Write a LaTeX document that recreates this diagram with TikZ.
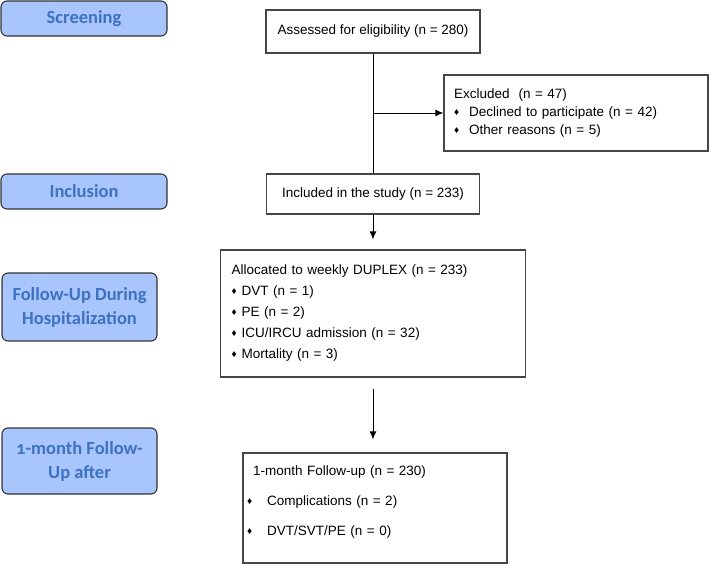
\documentclass[tikz,border=0pt]{standalone}
\usepackage{fontspec}
\setmainfont{Liberation Sans}
\newfontfamily\stagefont[Numbers=OldStyle]{Carlito}
\usetikzlibrary{positioning,arrows.meta}

\definecolor{stagefill}{RGB}{168,197,254}
\definecolor{stagetext}{RGB}{62,114,190}
\definecolor{boxline}{RGB}{70,70,70}

% small diamond bullet: #1 space before, #2 space after
\newcommand{\bul}[2]{\hspace*{#1}\raisebox{1.2pt}{\fontsize{10}{10}\selectfont ♦}\hspace{#2}}

\begin{document}
\begin{tikzpicture}[x=1pt,y=-1pt,on grid,
    stage/.style={draw=black!80, line width=1.1pt, rounded corners=6pt,
      fill=stagefill, text=stagetext, align=center, inner sep=0pt,
      font=\stagefont\bfseries\fontsize{18.5}{24}\selectfont},
    flow/.style={draw=boxline, line width=1.2pt, inner sep=0pt,
      font=\fontsize{13.5}{21}\selectfont},
    arr/.style={-{Latex[length=8pt,width=7pt]}, line width=1pt}]
  \useasboundingbox (0,0) rectangle (709,565);

  % stages
  \node[stage, minimum width=166pt, minimum height=35pt] (screen) at (84,18.5) {Screening};
  \node[stage, minimum width=166pt, minimum height=35pt] (inclstage) [below=173pt of screen] {Inclusion};
  \node[stage, minimum width=155pt, minimum height=68pt] (hosp) [below=115.5pt of inclstage, xshift=-4.5pt] {Follow-Up During\\Hospitalization};
  \node[stage, minimum width=155pt, minimum height=66pt] (month) [below=154pt of hosp] {1-month Follow-\\Up after};

  % flow boxes
  \node[flow, minimum width=214pt, minimum height=43pt] (assess) at (373,31.5) {Assessed for eligibility (n = 280)};
  \node[flow, minimum width=264pt, minimum height=76pt, text width=244pt, align=left,
        font=\fontsize{13.5}{18}\selectfont] (excl) [below right=81.5pt and 203pt of assess]
    {Excluded\ \ (n = 47)\\
     \bul{0pt}{10pt}Declined to participate (n = 42)\\
     \bul{0pt}{10pt}Other reasons (n = 5)};
  \node[flow, minimum width=213pt, minimum height=40pt] (incl) [below=162.5pt of assess] {Included in the study (n = 233)};
  \node[flow, minimum width=305pt, minimum height=127pt, text width=283pt, align=left] (alloc) [below=119.5pt of incl]
    {Allocated to weekly DUPLEX (n = 233)\\
     \bul{0pt}{5pt}DVT (n = 1)\\
     \bul{0pt}{5pt}PE (n = 2)\\
     \bul{0pt}{5pt}ICU/IRCU admission (n = 32)\\
     \bul{0pt}{5pt}Mortality (n = 3)};
  \node[flow, minimum width=264pt, minimum height=110pt, text width=244pt, align=left,
        font=\fontsize{13.5}{30}\selectfont] (fu) [below=194.5pt of alloc, xshift=2pt]
    {1-month Follow-up (n = 230)\\
     \bul{-6pt}{15pt}Complications (n = 2)\\
     \bul{-6pt}{15pt}DVT/SVT/PE (n = 0)\rule[-15pt]{0pt}{15pt}};

  % connectors
  \coordinate (split) at (assess |- excl);
  \draw[line width=1pt] (assess) -- (incl);
  \draw[arr] (split) -- (excl);
  \draw[arr, shorten >=10pt] (incl) -- (alloc);
  \draw[arr, shorten <=11pt, shorten >=13pt] (alloc) -- (alloc |- fu.north);
\end{tikzpicture}
\end{document}
